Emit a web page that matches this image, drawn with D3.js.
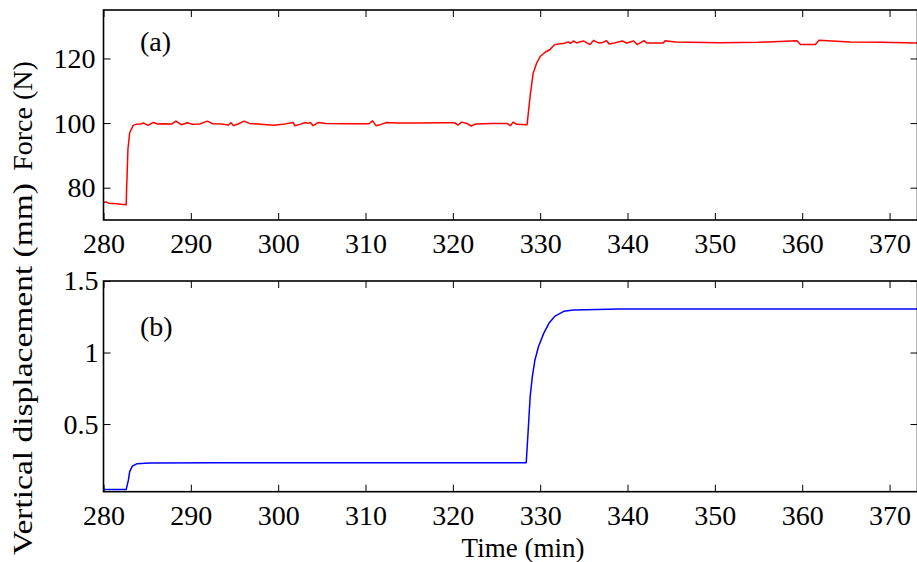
<!DOCTYPE html>
<html>
<head>
<meta charset="utf-8">
<script src="https://cdn.jsdelivr.net/npm/d3@7"></script>
<style>
  html, body { margin: 0; padding: 0; background: #fff; }
  svg { display: block; }
  text { font-family: "Liberation Serif", "Times New Roman", serif; fill: #000; }
</style>
</head>
<body>
<svg id="chart" width="917" height="562"></svg>
<script>
// ---- Data ----
const forceTime = [280.0, 280.3, 280.6, 281.0, 281.5, 282.0, 282.6, 282.65, 282.8, 283.0, 283.4, 283.7,
  284.2, 284.6, 285.1, 285.7, 286.2, 287.0, 287.8, 288.3, 288.9, 289.6, 290.2, 291.0, 291.9, 292.5, 293.5,
  294.3, 294.6, 294.9, 295.4, 296.1, 296.7, 298.0, 299.5, 300.5, 301.7, 301.9, 302.5, 303.1, 303.4, 303.7,
  304.0, 304.6, 305.5, 307.9, 309.5, 310.4, 310.8, 311.2, 311.8, 312.4, 313.5, 316.0, 318.5, 320.2, 320.6,
  321.0, 321.6, 322.1, 322.6, 324.5, 326.2, 326.6, 326.9, 327.3, 328.5, 328.85, 329.2, 329.6, 330.0,
  330.6, 331.1, 331.6, 332.1, 332.6, 333.2, 333.5, 333.8, 334.2, 334.6, 335.0, 335.3, 335.7, 336.1,
  336.6, 337.1, 337.6, 337.9, 338.5, 339.4, 339.9, 340.7, 341.1, 341.5, 341.9, 342.2, 344.1, 344.3,
  345.5, 350.6, 355.0, 359.4, 359.8, 361.5, 361.9, 365.5, 369.0, 373.2];
const forceValues = [75.4, 75.6, 75.2, 75.1, 75.0, 74.9, 74.7, 80.0, 92.0, 97.0, 99.3, 99.6,
  99.7, 100.0, 99.3, 100.2, 99.7, 99.8, 99.7, 100.6, 99.5, 100.1, 99.6, 99.7, 100.6, 99.8, 99.7,
  99.4, 100.1, 99.2, 99.7, 100.6, 99.9, 99.6, 99.3, 99.6, 100.2, 99.2, 99.6, 100.2, 99.9, 100.2,
  99.2, 100.2, 99.9, 99.8, 99.8, 99.8, 100.7, 99.2, 99.6, 100.2, 100.0, 100.0, 100.1, 100.1, 99.4,
  100.3, 99.9, 99.1, 99.7, 99.9, 99.9, 99.2, 100.3, 99.6, 99.5, 108.4, 115.5, 118.6, 120.6,
  122.0, 122.7, 124.2, 124.5, 124.6, 125.1, 124.7, 125.4, 124.8, 125.2, 125.4, 124.9, 124.3, 125.6,
  124.9, 124.9, 125.5, 124.5, 124.8, 125.4, 124.8, 125.4, 124.3, 124.9, 125.5, 124.8, 124.8, 125.5,
  125.1, 124.9, 125.0, 125.5, 124.3, 124.3, 125.6, 125.1, 125.0, 124.8];

const dispTime = [280.0, 281.5, 282.6, 282.85, 283.0, 283.3, 283.8, 285.3, 293.0, 310.0, 328.4,
  328.65, 328.85, 329.1, 329.4, 329.8, 330.4, 331.0, 331.7, 332.7, 333.8, 339.2, 350.0, 360.0, 373.2];
const dispValues = [0.043, 0.043, 0.043, 0.108, 0.167, 0.206, 0.222, 0.227, 0.229, 0.229, 0.229,
  0.481, 0.691, 0.831, 0.948, 1.04, 1.134, 1.204, 1.255, 1.288, 1.297, 1.304, 1.305, 1.305, 1.305];

const xTicks = [280, 290, 300, 310, 320, 330, 340, 350, 360, 370];
const forceTicks = [80, 100, 120];
const dispTicks = [0.5, 1, 1.5];
const dispTickLabels = ["0.5", "1", "1.5"];

// ---- Layout ----
const svg = d3.select("#chart");
const left = 103.5, right = 917.5;
const x = d3.scaleLinear().domain([280, 373.2]).range([left, right]);

const FS = 28;
const TL = 7;

const panels = [
  { top: 10, bottom: 220, domain: [70, 135], ticks: forceTicks, labels: forceTicks.map(String),
    t: forceTime, v: forceValues, color: "#ff0000", tag: "(a)", tagY: 51, ypad: 8, xpad: 13,
    ylabel: "Force (N)", ylabelY: 116, ylabelLen: null },
  { top: 281, bottom: 491.7, domain: [0.027, 1.5], ticks: dispTicks, labels: dispTickLabels,
    t: dispTime, v: dispValues, color: "#0000ff", tag: "(b)", tagY: 336, ypad: 5, xpad: 13,
    ylabel: "Vertical displacement (mm)", ylabelY: 369, ylabelLen: 372 }
];

panels.forEach(p => {
  const y = d3.scaleLinear().domain(p.domain).range([p.bottom, p.top]);
  const g = svg.append("g");

  // data line
  const line = d3.line().x((d, i) => x(p.t[i])).y(d => y(d));
  g.append("path").datum(p.v).attr("d", line)
    .attr("fill", "none").attr("stroke", p.color).attr("stroke-width", 1.5)
    .attr("stroke-linejoin", "round");

  // bottom axis with labels
  const ax = g.append("g").attr("transform", `translate(0,${p.bottom})`)
    .call(d3.axisBottom(x).tickValues(xTicks).tickSize(-TL).tickPadding(p.xpad).tickFormat(d3.format("d")));
  // top axis ticks
  const axt = g.append("g").attr("transform", `translate(0,${p.top})`)
    .call(d3.axisTop(x).tickValues(xTicks).tickSize(-TL).tickFormat(""));
  // left axis
  const ay = g.append("g").attr("transform", `translate(${left},0)`)
    .call(d3.axisLeft(y).tickValues(p.ticks).tickSize(-TL).tickPadding(p.ypad)
      .tickFormat((d, i) => p.labels[i]));
  // right axis ticks
  const ayr = g.append("g").attr("transform", `translate(${right},0)`)
    .call(d3.axisRight(y).tickValues(p.ticks).tickSize(-TL).tickFormat(""));

  [ax, axt, ay, ayr].forEach(a => {
    a.select(".domain").remove();
    a.selectAll(".tick line").attr("stroke", "#000").attr("stroke-width", 1);
    a.selectAll("text").attr("font-size", FS).attr("font-family", "Liberation Serif, serif").attr("fill", "#000");
  });
  g.append("rect").attr("x", left).attr("y", p.top)
    .attr("width", right - left).attr("height", p.bottom - p.top)
    .attr("fill", "none").attr("stroke", "#000").attr("stroke-width", 1.6);

  // panel tag
  g.append("text").attr("x", 140).attr("y", p.tagY).attr("font-size", FS).text(p.tag);

  // y label
  const yl = g.append("text").attr("transform", `translate(32,${p.ylabelY}) rotate(-90)`)
    .attr("text-anchor", "middle").attr("font-size", FS).text(p.ylabel);
  if (p.ylabelLen) yl.attr("textLength", p.ylabelLen).attr("lengthAdjust", "spacingAndGlyphs");
});

svg.append("text").attr("x", 523).attr("y", 557).attr("text-anchor", "middle")
  .attr("font-size", 27).text("Time (min)");
</script>
</body>
</html>
